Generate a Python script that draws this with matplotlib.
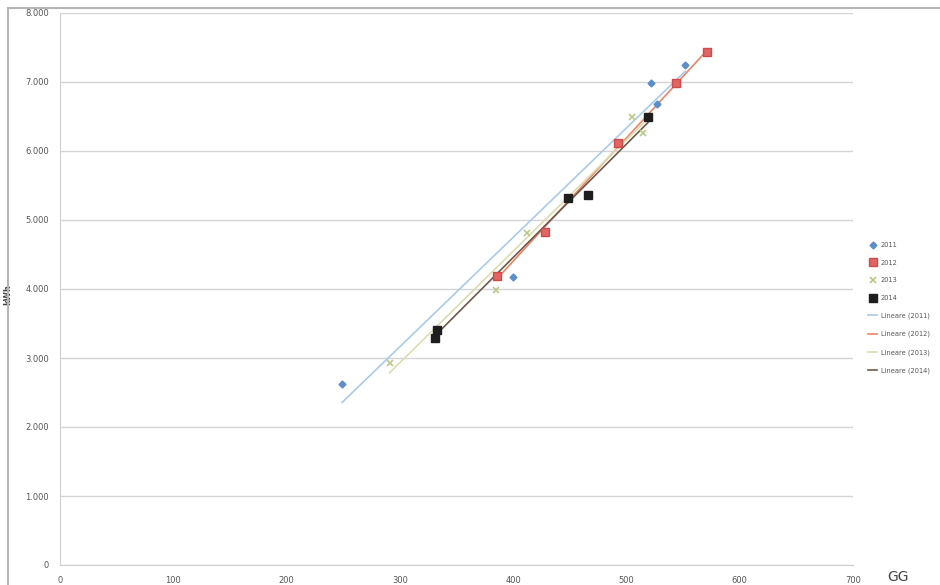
import matplotlib.pyplot as plt
import numpy as np
from matplotlib.patches import Rectangle
from matplotlib.ticker import FuncFormatter

# gradi giorno (GG) vs consumo, per anno
gg_2011 = [249, 400, 522, 527, 552]
kwh_2011 = [2620, 4175, 6985, 6680, 7245]

gg_2012 = [386, 428, 493, 544, 571]
kwh_2012 = [4190, 4825, 6115, 6985, 7435]

gg_2013 = [291, 385, 412, 505, 515]
kwh_2013 = [2930, 3985, 4810, 6495, 6260]

gg_2014 = [331, 333, 448, 466, 519]
kwh_2014 = [3290, 3410, 5320, 5360, 6495]

years = ['2011', '2012', '2013', '2014']
x_ticks = [0, 100, 200, 300, 400, 500, 600, 700]
y_ticks = [0, 1000, 2000, 3000, 4000, 5000, 6000, 7000, 8000]

series = [
    (gg_2011, kwh_2011, dict(marker='D', ms=3.5, color='#5b8fc9'), '#a9cbe8'),
    (gg_2012, kwh_2012, dict(marker='s', ms=5.5, color='#e06565', mec='#d04a4a'), '#e98566'),
    (gg_2013, kwh_2013, dict(marker='x', ms=5, color='#b9c98c', mew=1.2), '#dcdcb0'),
    (gg_2014, kwh_2014, dict(marker='s', ms=6, color='#1e1e1e'), '#6e5a4c'),
]

fig = plt.figure(figsize=(9.4, 5.85), dpi=100)
ax = fig.add_axes([60 / 940, 20 / 585, 793 / 940, 552 / 585])

# cornice dell'area grafico
fig.patches.append(Rectangle((8 / 940, -0.1), 1.2, (585 - 8) / 585 + 0.1,
                             transform=fig.transFigure, fill=False,
                             edgecolor='#b5b5b5', lw=1.5))

handles = []
for (x, y, style, _), year in zip(series, years):
    h, = ax.plot(x, y, ls='none', label=year, zorder=3, **style)
    handles.append(h)

for (x, y, _, lcol), year in zip(series, years):
    a, b = np.polyfit(x, y, 1)
    xs = np.array([min(x), max(x)])
    h, = ax.plot(xs, a * xs + b, color=lcol, lw=1.2, zorder=2,
                 label='Lineare (' + year + ')')
    handles.append(h)

ax.set_xlim(0, 700)
ax.set_ylim(0, 8000)
ax.set_xticks(x_ticks)
ax.set_yticks(y_ticks)
ax.yaxis.set_major_formatter(FuncFormatter(lambda v, p: f'{int(v):,}'.replace(',', '.')))
ax.tick_params(axis='both', labelsize=6, colors='#555555', length=0)
ax.tick_params(axis='x', pad=8)
ax.tick_params(axis='y', pad=8)
ax.grid(axis='y', color='#d4d4d4', lw=1)
ax.set_axisbelow(True)
for s in ['top', 'right']:
    ax.spines[s].set_visible(False)
for s in ['left', 'bottom']:
    ax.spines[s].set_color('#cfcfcf')

ax.set_ylabel('kWh', fontsize=6, fontweight='bold', color='#444444', labelpad=0)
ax.yaxis.set_label_coords(-48 / 793, 0.49)
fig.text(898 / 940, 1 - 577 / 585, 'GG', fontsize=10, color='#444444',
         ha='center', va='center')

fig.legend(handles=handles, loc='upper left', bbox_to_anchor=(864 / 940, 1 - 238 / 585),
           frameon=False, fontsize=4.8, labelspacing=1.75, handlelength=1.4,
           handletextpad=0.5, borderaxespad=0.2, labelcolor='#555555')

plt.savefig('out.png')
